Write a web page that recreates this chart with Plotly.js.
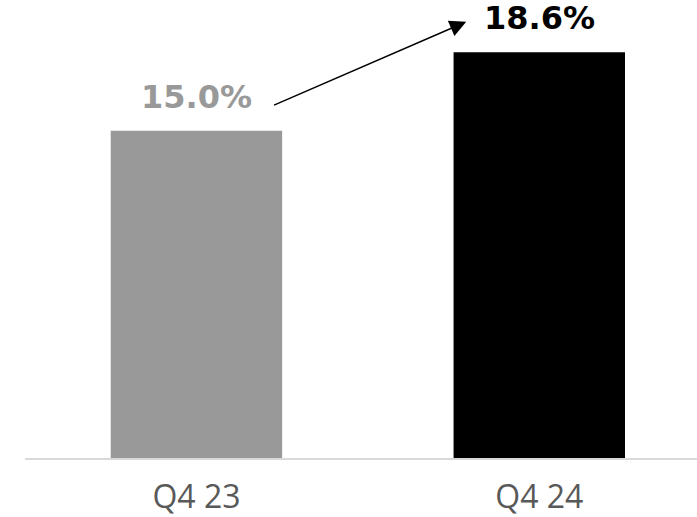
<!DOCTYPE html>
<html>
<head>
<meta charset="utf-8">
<script src="https://cdn.plot.ly/plotly-3.0.1.min.js"></script>
<style>html,body{margin:0;padding:0;background:#fff;}#chart{width:697px;height:517px;}</style>
</head>
<body>
<div id="chart"></div>
<script>
const categories = ["Q4 23", "Q4 24"];
const values = [15.0, 18.6];
const barColors = ["#999999", "#000000"];
const labelColors = ["#999999", "#000000"];

const trace = {
  type: "bar",
  x: categories,
  y: values,
  marker: {color: barColors},
  hoverinfo: "none"
};

const labelAnnotations = categories.map((c, i) => ({
  x: c, y: values[i], xref: "x", yref: "y",
  text: "<b>" + values[i].toFixed(1) + "%</b>",
  showarrow: false, yanchor: "bottom", yshift: 13,
  font: {family: "DejaVu Sans", size: 32, color: labelColors[i]}
}));

// arrow from first label to second label
const arrow = {
  xref: "x", yref: "y", axref: "x", ayref: "y",
  x: 0.787, y: 20.0,
  ax: 0.222, ay: 16.15,
  text: "", showarrow: true,
  arrowhead: 2, arrowsize: 2.2, arrowwidth: 1.5, arrowcolor: "#000000",
  standoff: 0, startstandoff: 0
};

const layout = {
  width: 697, height: 517,
  margin: {l: 25, r: 0, t: 0, b: 59},
  paper_bgcolor: "#ffffff", plot_bgcolor: "#ffffff",
  bargap: 0.5,
  showlegend: false,
  xaxis: {
    type: "category",
    range: [-0.5, 1.46],
    showline: true, linecolor: "#d9d9d9", linewidth: 2,
    ticks: "", showgrid: false, zeroline: false,
    tickfont: {family: "Open Sans", size: 32, color: "#595959"},
    ticklabelstandoff: 10
  },
  yaxis: {
    range: [0, 21.0],
    visible: false, showgrid: false, zeroline: false
  },
  annotations: labelAnnotations.concat([arrow])
};

Plotly.newPlot("chart", [trace], layout, {displayModeBar: false, staticPlot: true});
</script>
</body>
</html>
